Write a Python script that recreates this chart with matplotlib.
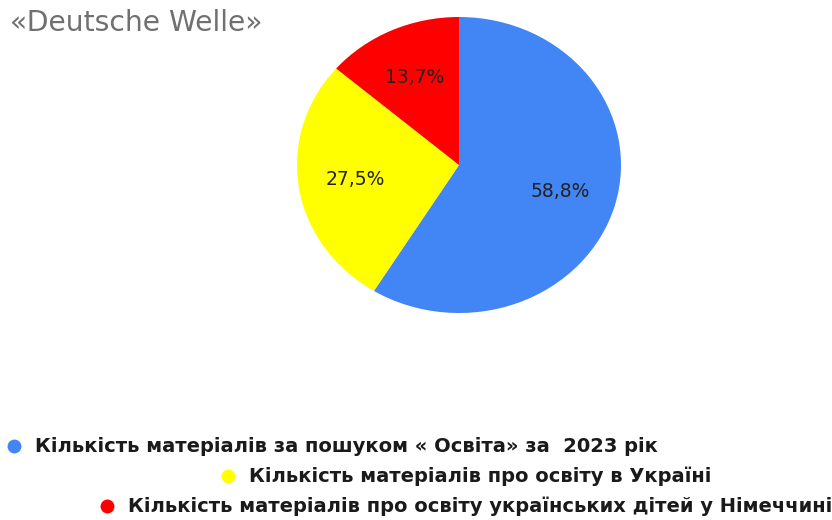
import matplotlib.pyplot as plt

categories = ["Кількість матеріалів за пошуком « Освіта» за  2023 рік",
              "Кількість матеріалів про освіту в Україні",
              "Кількість матеріалів про освіту українських дітей у Німеччині"]
values = [58.8, 27.5, 13.7]
colors = ["#4285F4", "#FFFF00", "#FF0000"]
title = "«Deutsche Welle»"

W, H = 832, 520
fig = plt.figure(figsize=(W / 100, H / 100), dpi=100)

# pie axes (the source image is slightly stretched horizontally)
ax = fig.add_axes([297 / W, (H - 313) / H, 324 / W, 296 / H])
wedges, texts, autotexts = ax.pie(values, colors=colors, startangle=90, counterclock=False,
                                  autopct=lambda p: f"{p:.1f}%".replace(".", ","),
                                  pctdistance=0.65, radius=1,
                                  textprops=dict(fontsize=13.5, family="DejaVu Sans", color="#222222"))
ax.set_aspect("auto")
ax.set_xlim(-1, 1)
ax.set_ylim(-1, 1)

fig.text(10 / W, 1 - 23 / H, title, fontsize=20.3, color="#707070",
         family="DejaVu Sans", va="center", ha="left")

# legend, staggered like the original
ov = fig.add_axes([0, 0, 1, 1], facecolor="none")
ov.set_xlim(0, W)
ov.set_ylim(H, 0)
ov.axis("off")
leg_x = [14, 228, 107]
leg_y = [446, 476, 506]
for lbl, c, x, y in zip(categories, colors, leg_x, leg_y):
    ov.plot([x], [y], "o", color=c, markersize=10, markeredgewidth=0)
    ov.text(x + 21, y, lbl, fontsize=14, fontweight="bold", family="DejaVu Sans",
            color="#1a1a1a", va="center", ha="left")

fig.savefig("out.png", dpi=100)
